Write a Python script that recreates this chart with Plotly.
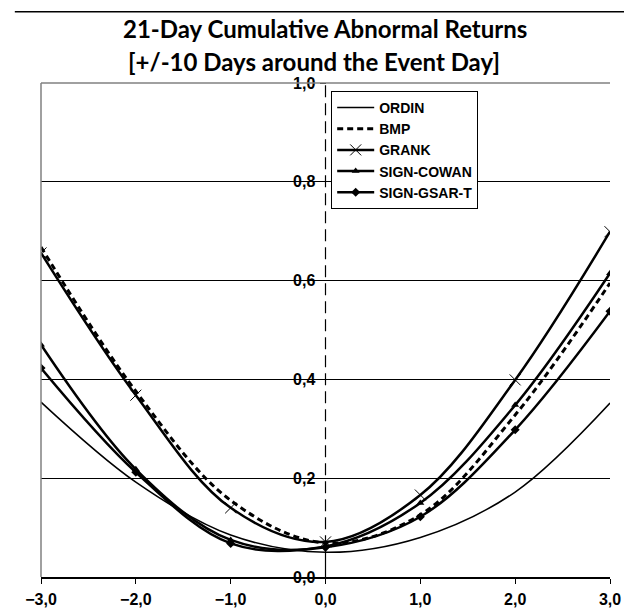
import plotly.graph_objects as go

days = [-3, -2, -1, 0, 1, 2, 3]
ordin = [0.354, 0.192, 0.085, 0.050, 0.080, 0.172, 0.352]
bmp = [0.668, 0.376, 0.155, 0.069, 0.126, 0.328, 0.595]
grank = [0.656, 0.368, 0.140, 0.071, 0.166, 0.399, 0.699]
sign_cowan = [0.470, 0.218, 0.075, 0.062, 0.150, 0.348, 0.615]
sign_gsar_t = [0.423, 0.212, 0.068, 0.060, 0.122, 0.298, 0.538]

x_ticks = [-3, -2, -1, 0, 1, 2, 3]
y_ticks = [0.0, 0.2, 0.4, 0.6, 0.8, 1.0]

FONT = "Liberation Sans, Arial, sans-serif"

fig = go.Figure()
fig.add_trace(go.Scatter(x=days, y=ordin, name="ORDIN", mode="lines",
                         line=dict(color="black", width=1.5, shape="spline")))
fig.add_trace(go.Scatter(x=days, y=bmp, name="BMP", mode="lines",
                         line=dict(color="black", width=3, dash="6px,4px", shape="spline")))
fig.add_trace(go.Scatter(x=days, y=grank, name="GRANK", mode="lines+markers",
                         line=dict(color="black", width=2.5, shape="spline"),
                         marker=dict(symbol="x-thin", size=11, line=dict(color="black", width=1))))
fig.add_trace(go.Scatter(x=days, y=sign_cowan, name="SIGN-COWAN", mode="lines+markers",
                         line=dict(color="black", width=2.5, shape="spline"),
                         marker=dict(symbol="triangle-up", size=7, color="black")))
fig.add_trace(go.Scatter(x=days, y=sign_gsar_t, name="SIGN-GSAR-T", mode="lines+markers",
                         line=dict(color="black", width=2.5, shape="spline"),
                         marker=dict(symbol="diamond", size=7, color="black")))

# dashed y axis line at x = 0
fig.add_shape(type="line", xref="x", yref="paper", x0=0, x1=0, y0=0.06, y1=1,
              line=dict(color="black", width=1.2, dash="12px,6px"), layer="below")
fig.add_shape(type="line", xref="x", yref="paper", x0=0, x1=0, y0=0, y1=0.065,
              line=dict(color="black", width=1.2), layer="below")
# grey plot border (left, top)
fig.add_shape(type="line", xref="paper", yref="paper", x0=0, x1=0, y0=0, y1=1,
              line=dict(color="#808080", width=1.5))
fig.add_shape(type="line", xref="paper", yref="paper", x0=0, x1=1, y0=1, y1=1,
              line=dict(color="#808080", width=1.5))
# outer frame line at top of image
fig.add_shape(type="line", xref="paper", yref="paper", x0=-0.046, x1=1.04, y0=1.144, y1=1.144,
              line=dict(color="black", width=1.5))

fig.add_annotation(text="<b>21-Day Cumulative Abnormal Returns</b>", xref="paper", yref="paper",
                   x=0.499, y=1.11, xanchor="center", yanchor="middle", showarrow=False,
                   font=dict(family="Lato, sans-serif", size=24, color="black"))
fig.add_annotation(text="<b>[+/-10 Days around the Event Day]</b>", xref="paper", yref="paper",
                   x=0.48, y=1.043, xanchor="center", yanchor="middle", showarrow=False,
                   font=dict(family="Lato, sans-serif", size=24, color="black"))

fig.update_layout(
    width=624, height=607,
    margin=dict(l=33, r=22, t=75, b=38),
    paper_bgcolor="white", plot_bgcolor="white",
    separators=", ",
    showlegend=True,
    legend=dict(x=0.51, y=0.984, xanchor="left", yanchor="top",
                bgcolor="white", bordercolor="black", borderwidth=1,
                font=dict(family=FONT, size=14, color="black", weight="bold"),
                itemwidth=37, tracegroupgap=0),
    xaxis=dict(range=[-3, 3], tickvals=x_ticks, tickformat=".1f", automargin=False,
               showgrid=False, zeroline=False, showline=True, linecolor="black", linewidth=1.5,
               ticks="outside", ticklen=5, tickcolor="black",
               tickfont=dict(family=FONT, size=16, color="black", weight="bold"),
               ticklabelstandoff=2),
    yaxis=dict(range=[0, 1], tickvals=y_ticks, tickformat=".1f", automargin=False,
               anchor="free", position=0.5, side="left",
               showgrid=True, gridcolor="black", gridwidth=1, zeroline=False, showline=False,
               ticks="outside", ticklen=6, tickcolor="black",
               tickfont=dict(family=FONT, size=16, color="black", weight="bold"),
               ticklabelstandoff=1),
)

fig.write_html("out.html")
